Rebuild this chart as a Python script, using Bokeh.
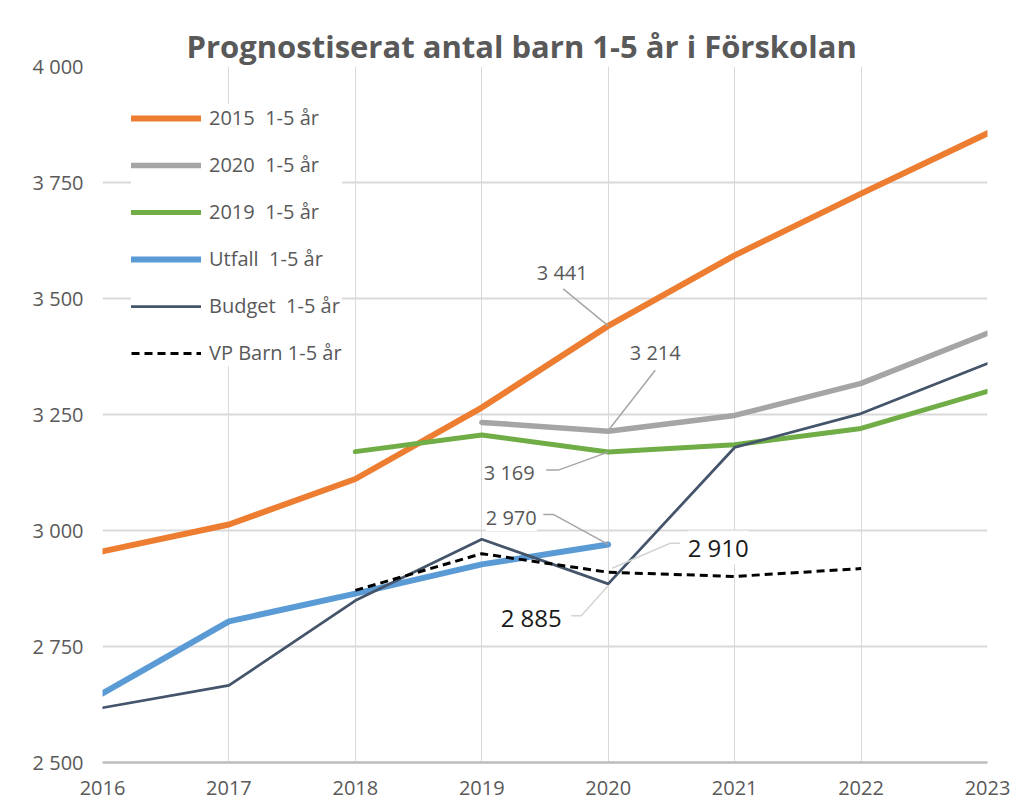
from bokeh.plotting import figure
from bokeh.models import FixedTicker, Legend, LegendItem, Range1d, Label
from bokeh.embed import file_html
from bokeh.resources import INLINE

# ---------------- data ----------------
years = [2016, 2017, 2018, 2019, 2020, 2021, 2022, 2023]
prog2015 = [2955, 3013, 3111, 3265, 3441, 3593, 3726, 3856]

years2020 = [2019, 2020, 2021, 2022, 2023]
prog2020 = [3233, 3214, 3248, 3317, 3425]

years2019 = [2018, 2019, 2020, 2021, 2022, 2023]
prog2019 = [3170, 3206, 3169, 3185, 3220, 3300]

years_utfall = [2016, 2017, 2018, 2019, 2020]
utfall = [2649, 2804, 2864, 2927, 2970]

budget = [2618, 2666, 2849, 2981, 2885, 3179, 3252, 3360]

years_vp = [2018, 2019, 2020, 2021, 2022]
vp = [2871, 2950, 2910, 2901, 2918]

y_ticks = [2500, 2750, 3000, 3250, 3500, 3750, 4000]
y_tick_labels = ["2 500", "2 750", "3 000", "3 250", "3 500", "3 750", "4 000"]

title_text = "Prognostiserat antal barn 1-5 år i Förskolan"
legend_labels = ["2015  1-5 år", "2020  1-5 år", "2019  1-5 år",
                 "Utfall  1-5 år", "Budget  1-5 år", "VP Barn 1-5 år"]

# ---------------- layout ----------------
W, H = 1020, 807
BL, BR, BT, BB = 102, 33, 66, 45
FW, FH = W - BL - BR, H - BT - BB
X0, X1 = 2016, 2023
Y0, Y1 = 2500, 4000
PXX = FW / (X1 - X0)
PXY = FH / (Y1 - Y0)

FONT = "Open Sans"
GREY_TXT = "#595959"

p = figure(width=W, height=H, output_backend="svg", toolbar_location=None,
           x_range=Range1d(X0, X1), y_range=Range1d(Y0, Y1),
           min_border_left=BL, min_border_right=BR,
           min_border_top=BT, min_border_bottom=BB)
p.outline_line_color = None
p.background_fill_color = "white"
p.border_fill_color = "white"

# title
p.title.text = title_text
p.title.text_font = FONT
p.title.text_font_size = "31px"
p.title.text_font_style = "bold"
p.title.text_color = GREY_TXT
p.title.align = "left"
p.title.offset = 84
p.title.standoff = 0

# axes
p.xaxis.ticker = FixedTicker(ticks=years)
p.yaxis.ticker = FixedTicker(ticks=y_ticks)
p.yaxis.major_label_overrides = {t: l for t, l in zip(y_ticks, y_tick_labels)}
for ax in (p.xaxis[0], p.yaxis[0]):
    ax.major_tick_line_color = None
    ax.minor_tick_line_color = None
    ax.major_tick_out = 0
    ax.major_tick_in = 0
    ax.minor_tick_out = 0
    ax.major_label_text_font = FONT
    ax.major_label_text_font_size = "20px"
    ax.major_label_text_color = GREY_TXT
p.xaxis.axis_line_color = "#bcbcbc"
p.xaxis.axis_line_width = 2.5
p.xaxis.major_label_standoff = 18
p.yaxis.axis_line_color = None
p.yaxis.major_label_standoff = 19

p.xgrid.grid_line_color = "#d9d9d9"
p.xgrid.grid_line_width = 1
p.ygrid.grid_line_color = "#d9d9d9"
p.ygrid.grid_line_width = 2

# ---------------- series ----------------
r_or = p.line(years, prog2015, line_color="#ED7D31", line_width=6, line_cap="round", line_join="round")
r_gr = p.line(years2020, prog2020, line_color="#A5A5A5", line_width=5.5, line_cap="round", line_join="round")
r_gn = p.line(years2019, prog2019, line_color="#70AD47", line_width=5, line_cap="round", line_join="round")
r_bl = p.line(years_utfall, utfall, line_color="#5B9BD5", line_width=6, line_cap="round", line_join="round")
r_bu = p.line(years, budget, line_color="#44546A", line_width=2.75, line_cap="round", line_join="round")
r_vp = p.line(years_vp, vp, line_color="black", line_width=3, line_dash="8 5")

legend = Legend(items=[LegendItem(label=l, renderers=[r]) for l, r in
                       zip(legend_labels, [r_or, r_gr, r_gn, r_bl, r_bu, r_vp])],
                location=(29, 396))
legend.background_fill_color = "white"
legend.background_fill_alpha = 1
legend.border_line_color = None
legend.padding = 14
legend.spacing = 20
legend.glyph_width = 70
legend.glyph_height = 20
legend.label_height = 20
legend.label_standoff = 8
legend.label_text_font = FONT
legend.label_text_font_size = "20px"
legend.label_text_color = GREY_TXT
legend.margin = 0
p.add_layout(legend, "center")


# ---------------- data labels ----------------
def off(x, y, dx, dy):
    return x + dx / PXX, y - dy / PXY


ann = [
    # (x, y, text, text dx, dy, leader pts [(dx,dy)...], color, size, leader color)
    (2020, prog2015[years.index(2020)], "3 441", -46, -53, [(0, 0), (-45, -37)], GREY_TXT, "20px", "#a6a6a6"),
    (2020, prog2020[years2020.index(2020)], "3 214", 47, -79, [(1, -2), (47, -61)], GREY_TXT, "20px", "#a6a6a6"),
    (2020, prog2019[years2019.index(2020)], "3 169", -99, 20, [(0, 0), (-50, 18), (-62, 18)], GREY_TXT, "20px", "#a6a6a6"),
    (2020, utfall[years_utfall.index(2020)], "2 970", -97, -27, [(0, 0), (-55, -30), (-65, -30)], GREY_TXT, "20px", "#a6a6a6"),
    (2020, vp[years_vp.index(2020)], "2 910", 110, -25, [(4, -4), (62, -29), (72, -29)], "#1a1a1a", "24px", "#d4d4d4"),
    (2020, budget[years.index(2020)], "2 885", -77, 34, [(0, 2), (-27, 32), (-37, 32)], "#1a1a1a", "24px", "#d4d4d4"),
]

for x, y, txt, tdx, tdy, pts, col, size, lcol in ann:
    xs, ys = zip(*[off(x, y, dx, dy) for dx, dy in pts])
    p.line(list(xs), list(ys), line_color=lcol, line_width=1.5)
    tx, ty = off(x, y, tdx, tdy)
    p.add_layout(Label(x=tx, y=ty, text=txt, text_align="center", text_baseline="middle",
                       text_font=FONT, text_font_size=size, text_color=col,
                       background_fill_color="white", background_fill_alpha=1))

open("out.html", "w").write(file_html(p, INLINE))
